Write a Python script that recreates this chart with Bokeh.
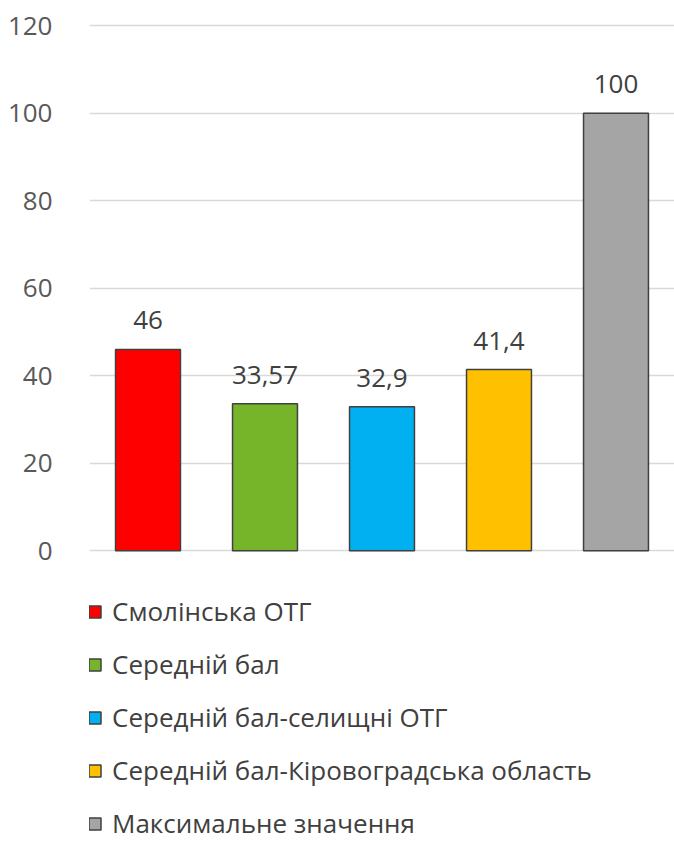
from bokeh.plotting import figure
from bokeh.models import ColumnDataSource, Legend, LegendItem, FixedTicker
from bokeh.core.properties import value
from bokeh.embed import file_html
from bokeh.resources import INLINE

categories = ["Смолінська ОТГ", "Середній бал", "Середній бал-селищні ОТГ",
              "Середній бал-Кіровоградська область", "Максимальне значення"]
values = [46, 33.57, 32.9, 41.4, 100]
value_labels = ["46", "33,57", "32,9", "41,4", "100"]
colors = ["#FF0000", "#76B52A", "#00B0F0", "#FFC000", "#A5A5A5"]
y_ticks = [0, 20, 40, 60, 80, 100, 120]

FONT = "Open Sans"
FS = "26px"

src = ColumnDataSource(dict(cat=categories, val=values, lab=value_labels, col=colors))

# the lower part of the frame (below 0) holds the legend
p = figure(x_range=categories, y_range=(-66.7, 120.5), width=674, height=842,
           output_backend="svg", toolbar_location=None,
           min_border_left=89, min_border_right=0, min_border_top=23, min_border_bottom=0)
p.outline_line_color = None
p.background_fill_color = "white"
p.border_fill_color = "white"

p.xgrid.grid_line_color = None
p.ygrid.grid_line_color = "#D9D9D9"
p.ygrid.grid_line_width = 1.5

p.yaxis.ticker = FixedTicker(ticks=y_ticks)
p.yaxis.axis_line_color = None
p.yaxis.major_tick_line_color = None
p.yaxis.minor_tick_line_color = None
p.yaxis.major_label_text_font = FONT
p.yaxis.major_label_text_font_size = FS
p.yaxis.major_label_text_color = "#595959"
p.yaxis.major_label_standoff = 31
p.xaxis.visible = False

renderers = []
for i, c in enumerate(categories):
    s = ColumnDataSource(dict(cat=[c], val=[values[i]]))
    r = p.vbar(x="cat", top="val", bottom=0, width=0.555, source=s, fill_color=colors[i],
               line_color="#404040", line_width=1.5)
    renderers.append(r)

p.text(x="cat", y="val", text="lab", source=src, text_align="center",
       text_baseline="middle", y_offset=-29, text_font=value(FONT),
       text_font_size=FS, text_color="#404040")

legend = Legend(items=[LegendItem(label=c, renderers=[r]) for c, r in zip(categories, renderers)],
                location=(-2, 1), orientation="vertical")
legend.border_line_color = None
legend.background_fill_alpha = 0
legend.margin = 0
legend.padding = 0
legend.spacing = 17
legend.label_height = 26
legend.glyph_height = 15
legend.glyph_width = 15
legend.label_standoff = 10
legend.label_text_font = FONT
legend.label_text_font_size = FS
legend.label_text_color = "#404040"
p.add_layout(legend, "center")

open("out.html", "w").write(file_html(p, INLINE))
